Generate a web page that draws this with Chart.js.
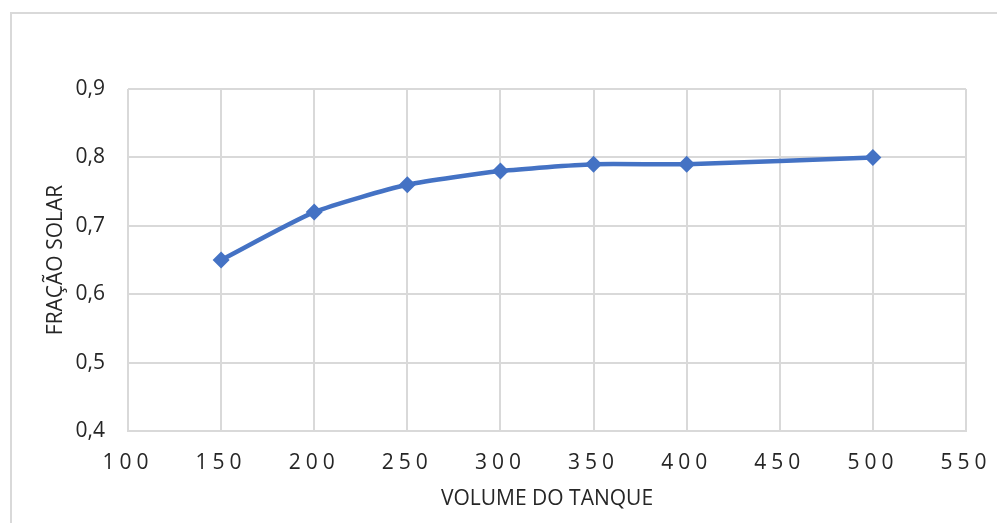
<!DOCTYPE html>
<html>
<head>
<meta charset="utf-8">
<script src="https://cdn.jsdelivr.net/npm/chart.js@4.4.1/dist/chart.umd.min.js"></script>
<style>
  html, body { margin: 0; padding: 0; background: #ffffff; }
  #wrap { width: 997px; height: 523px; position: relative; }
</style>
</head>
<body>
<div id="wrap"><canvas id="chart"></canvas></div>
<script>
// Tank volume vs. solar fraction
const volumes = [150, 200, 250, 300, 350, 400, 500];
const solarFraction = [0.65, 0.72, 0.76, 0.78, 0.79, 0.79, 0.80];
const xTicks = [100, 150, 200, 250, 300, 350, 400, 450, 500, 550];
const yTicks = [0.4, 0.5, 0.6, 0.7, 0.8, 0.9];
const xTitle = 'VOLUME DO TANQUE';
const yTitle = 'FRAÇÃO SOLAR';

const FONT = '"Open Sans", "Noto Sans", sans-serif';
const GRID = '#d9d9d9';
const TEXT = '#262626';
const LINE = '#4472C4';

// Linear scale whose tick labels are drawn with extra letter spacing
class SpacedLinearScale extends Chart.LinearScale {
  drawLabels(area) {
    const ctx = this.ctx;
    ctx.save();
    ctx.letterSpacing = '5px';
    super.drawLabels(area);
    ctx.restore();
  }
}
SpacedLinearScale.id = 'spacedLinear';
SpacedLinearScale.defaults = Chart.LinearScale.defaults;
Chart.register(SpacedLinearScale);

// Light frame around the chart
const framePlugin = {
  id: 'frame',
  beforeDraw(chart) {
    const ctx = chart.ctx;
    ctx.save();
    ctx.strokeStyle = GRID;
    ctx.lineWidth = 2;
    ctx.beginPath();
    ctx.moveTo(11, chart.height + 2);
    ctx.lineTo(11, 13);
    ctx.lineTo(chart.width + 2, 13);
    ctx.stroke();
    ctx.restore();
  }
};

new Chart(document.getElementById('chart'), {
  type: 'line',
  data: {
    datasets: [{
      data: volumes.map((v, i) => ({ x: v, y: solarFraction[i] })),
      borderColor: LINE,
      backgroundColor: LINE,
      borderWidth: 4.5,
      tension: 0.2,
      pointStyle: 'rectRot',
      pointRadius: 8.5,
      pointBorderWidth: 0,
      pointBackgroundColor: LINE,
      fill: false
    }]
  },
  options: {
    responsive: true,
    maintainAspectRatio: false,
    animation: false,
    devicePixelRatio: 1,
    layout: { padding: { left: 0, top: 89, right: 31, bottom: 0 } },
    plugins: {
      legend: { display: false },
      tooltip: { enabled: false }
    },
    scales: {
      x: {
        type: 'spacedLinear',
        min: xTicks[0],
        max: xTicks[xTicks.length - 1],
        afterBuildTicks: s => { s.ticks = xTicks.map(v => ({ value: v })); },
        afterFit: s => { s.height = 92; s.paddingLeft = 0; s.paddingRight = 0; },
        grid: { color: GRID, lineWidth: 2, drawTicks: false },
        border: { color: GRID, width: 2 },
        ticks: {
          color: TEXT,
          padding: 19,
          maxRotation: 0,
          font: { family: FONT, size: 21 },
          callback: v => String(v)
        },
        title: {
          display: true,
          text: xTitle,
          color: TEXT,
          font: { family: FONT, size: 21 },
          padding: { top: 0, bottom: 11 }
        }
      },
      y: {
        type: 'linear',
        min: yTicks[0],
        max: yTicks[yTicks.length - 1],
        afterBuildTicks: s => { s.ticks = yTicks.map(v => ({ value: v })); },
        afterFit: s => { s.width = 128; s.paddingTop = 0; s.paddingBottom = 0; },
        grid: { color: GRID, lineWidth: 2, drawTicks: false },
        border: { display: false },
        ticks: {
          color: TEXT,
          padding: 23,
          font: { family: FONT, size: 21 },
          callback: v => v.toFixed(1).replace('.', ',')
        },
        title: {
          display: true,
          text: yTitle,
          color: TEXT,
          font: { family: FONT, size: 21 },
          padding: { top: 43, bottom: 0 }
        }
      }
    }
  },
  plugins: [framePlugin]
});
</script>
</body>
</html>
